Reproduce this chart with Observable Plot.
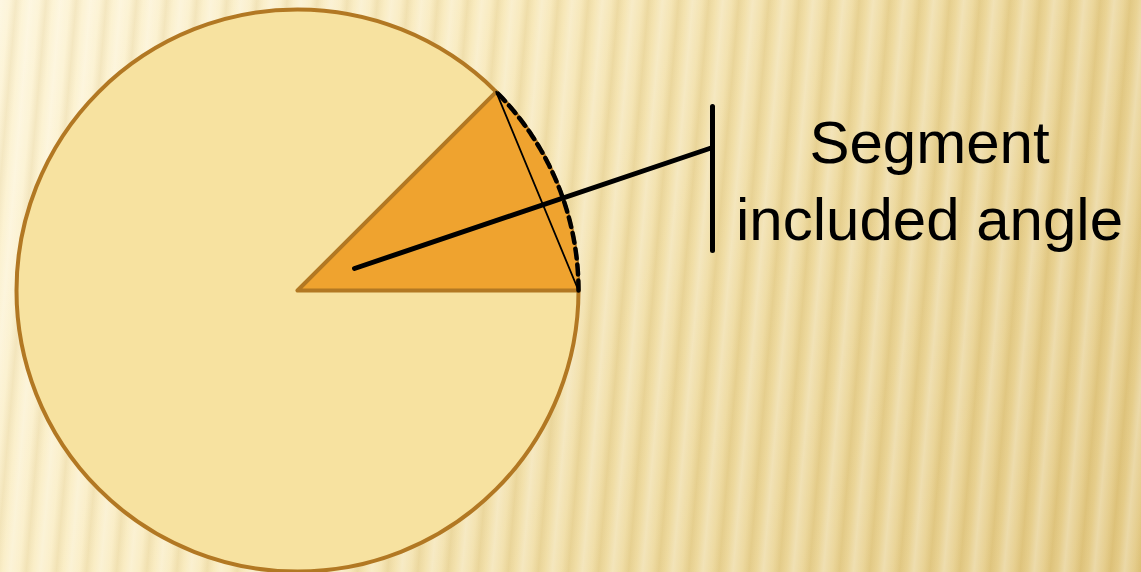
<!DOCTYPE html>
<html><head><meta charset="utf-8">
<script src="https://cdn.jsdelivr.net/npm/d3@7"></script>
<script src="https://cdn.jsdelivr.net/npm/@observablehq/plot@0.6"></script>
<style>
html,body{margin:0;padding:0;background:#fff;}
#chart{width:1141px;height:572px;overflow:hidden;
background:
 repeating-linear-gradient(95deg, rgba(255,255,255,0.30) 0px, rgba(255,255,255,0.10) 9px, rgba(160,120,30,0.09) 16px, rgba(255,255,255,0.05) 23px, rgba(255,255,255,0.30) 30px),
 linear-gradient(115deg, #FDF4D6 0%, #F8E9BA 35%, #EDD89A 65%, #E2C77F 100%);}
#chart svg{display:block;}
</style></head><body><div id="chart"></div>
<script>
// Diagram geometry (data units: circle centre at origin, y up)
const centre = [{x: 0, y: 0}];
const radius = [281];
const sectorAngles = [0, 45];          // degrees: start, end of the segment's included angle
const calloutFrom = [{x: 57, y: 22}];
const calloutTo = [{x: 415, y: 143}];
const bracket = [{x: 415, y: 184}, {x: 415, y: 40}];
const labels = ["Segment", "included angle"];
const labelPos = [{x: 632, y: 128}, {x: 632, y: 51}];

const R = radius[0];
const toPt = (deg) => ({x: centre[0].x + R * Math.cos(deg * Math.PI / 180), y: centre[0].y + R * Math.sin(deg * Math.PI / 180)});
const arc = d3.range(sectorAngles[0], sectorAngles[1] + 0.5, 0.5).map(toPt);
const sector = [centre[0], ...arc, centre[0]];
const radii = [toPt(sectorAngles[1]), centre[0], toPt(sectorAngles[0])];
const chord = [toPt(sectorAngles[1]), toPt(sectorAngles[0])];
const callout = [calloutFrom[0], calloutTo[0]];
const labelRows = labels.map((t, i) => ({text: t, ...labelPos[i]}));

const chart = Plot.plot({
  width: 1141, height: 572, margin: 0,
  x: {domain: [-297, 844], axis: null},
  y: {domain: [-282, 290], axis: null},
  style: {background: "transparent", overflow: "visible"},
  marks: [
    Plot.dot(centre, {x: "x", y: "y", r: R, fill: "#F7E2A0", stroke: "#B27823", strokeWidth: 4}),
    Plot.line(sector, {x: "x", y: "y", fill: "#EFA32F", stroke: "none"}),
    Plot.line(radii, {x: "x", y: "y", stroke: "#B27823", strokeWidth: 4, strokeLinejoin: "round"}),
    Plot.line(chord, {x: "x", y: "y", stroke: "#000", strokeWidth: 1.8}),
    Plot.line(arc, {x: "x", y: "y", stroke: "#000", strokeWidth: 4.5, strokeDasharray: "10,6"}),
    Plot.line(callout, {x: "x", y: "y", stroke: "#000", strokeWidth: 5}),
    Plot.line(bracket, {x: "x", y: "y", stroke: "#000", strokeWidth: 5}),
    Plot.text(labelRows, {x: "x", y: "y", text: "text", textAnchor: "middle", lineAnchor: "bottom",
      fontSize: 60, fill: "#000", fontFamily: "Liberation Sans, Arial, sans-serif"})
  ]
});
document.getElementById("chart").appendChild(chart);
</script>
</body></html>
